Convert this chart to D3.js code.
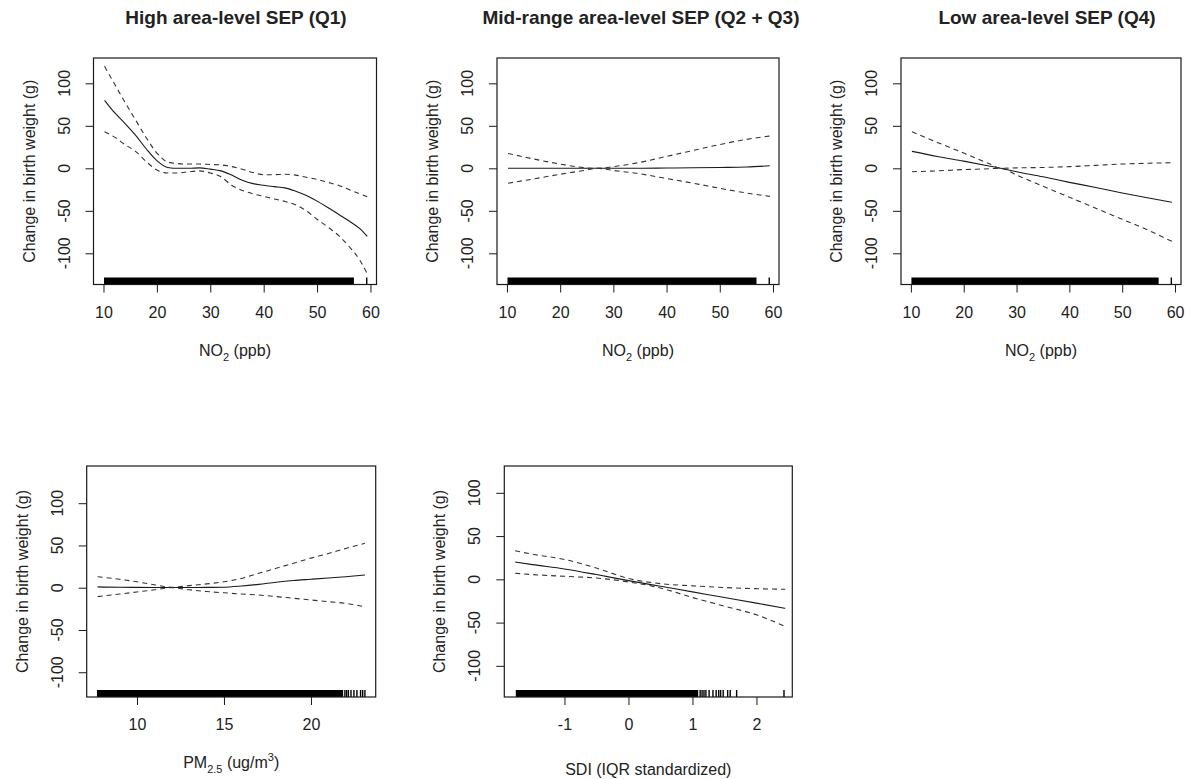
<!DOCTYPE html>
<html><head><meta charset="utf-8">
<script src="https://cdn.jsdelivr.net/npm/d3@7"></script>
<style>
body{margin:0;background:#fff}
text{font-family:"Liberation Sans",Arial,sans-serif;fill:#222}
</style>
</head><body>
<svg id="chart" width="1190" height="779"></svg>
<script>
// ---------- data ----------
const titles = ["High area-level SEP (Q1)", "Mid-range area-level SEP (Q2 + Q3)", "Low area-level SEP (Q4)"];
const yTicks = [-100, -50, 0, 50, 100];
const no2Ticks = [10, 20, 30, 40, 50, 60];
const pmTicks = [10, 15, 20];
const sdiTicks = [-1, 0, 1, 2];

// Panel 1: NO2, Q1
const q1X     = [10.2, 12, 14, 16, 18, 20, 22, 24, 26, 28, 30, 32, 34, 36, 38, 40, 42, 44, 46, 48, 50, 52, 54, 56, 58, 59.4];
const q1Fit   = [80, 66, 53, 39, 23, 9, 1, 0, 0, 0.5, -1, -3, -8, -14, -18, -20, -21.5, -23, -27, -32, -38.6, -46, -54, -62, -71, -80];
const q1Upper = [120, 100, 78, 57, 36, 18, 7.5, 5.5, 5, 5, 4.5, 4, 2, -1, -5, -7.5, -7.5, -7, -8, -10.5, -13, -16.5, -20, -25, -30, -33.5];
const q1Lower = [43, 37, 28, 20, 8, -2, -5.5, -5.5, -4, -3, -5.5, -10, -20, -26, -30, -33, -36, -39, -43, -50, -60, -69, -79, -92, -108, -124];

// Panel 2: NO2, Q2+Q3
const q23X     = [10.2, 15, 20, 25, 27, 30, 35, 40, 45, 50, 55, 59.4];
const q23Fit   = [0, 0, 0, 0, 0, 0, 0, 0.3, 0.6, 1, 1.5, 3];
const q23Upper = [17.5, 11, 5, 0.5, 0, 2, 7, 14, 21, 28, 34, 38];
const q23Lower = [-17.5, -12.5, -7, -2, 0, -2.5, -6.5, -12, -17.5, -23.5, -29, -33];

// Panel 3: NO2, Q4
const q4X     = [10.2, 15, 20, 25, 27, 30, 35, 40, 45, 50, 55, 59.4];
const q4Fit   = [20, 14, 8.5, 2.5, 0, -4, -10, -16.5, -22.5, -29, -35, -40];
const q4Upper = [43, 30.5, 18, 5, 0, 0.5, 1, 2, 3.5, 5, 6, 6.6];
const q4Lower = [-4, -3, -1.5, -0.5, 0, -8, -21, -34, -47, -60, -73, -86];

// Panel 4: PM2.5
const pmX     = [7.74, 9, 10, 11, 12, 13, 14, 15, 16, 17, 18, 19, 20, 21, 22, 23.1];
const pmFit   = [1, 0.5, 0.4, 0.3, 0.3, 0.3, 0.4, 0.6, 2, 4, 6.5, 8.5, 10, 11.5, 13, 15];
const pmUpper = [13, 10, 7, 3.5, 0.5, 2.5, 4.5, 7, 11, 17, 23, 29, 35, 40.5, 46.5, 52.5];
const pmLower = [-10.5, -7.5, -5, -2.5, 0, -2.5, -4.5, -6, -7.5, -8.7, -10.5, -12.5, -14.5, -16.5, -18.5, -22.5];

// Panel 5: SDI
const sdiX     = [-1.77, -1.5, -1, -0.5, 0, 0.5, 1, 1.5, 2, 2.45];
const sdiFit   = [20, 17, 12, 5.5, -1.5, -8, -14.5, -21, -27.5, -33.5];
const sdiUpper = [33, 29, 23, 13, 1, -5, -7.5, -9.5, -10.8, -11.5];
const sdiLower = [7, 5.5, 3.5, 1.5, -3, -10, -21, -31, -41, -54.5];

// Rugs: dense band [from, to] plus isolated ticks
const no2RugBand = [10.1, 56.9];
const no2RugTicks = [59.3];
const pmRugBand = [7.7, 21.85];
const pmRugTicks = [21.95, 22.05, 22.15, 22.3, 22.47, 22.64, 22.85, 22.97, 23.1];
const sdiRugBand = [-1.76, 1.09];
const sdiRugTicks = [1.12, 1.15, 1.18, 1.21, 1.26, 1.32, 1.37, 1.41, 1.44, 1.48, 1.55, 1.59, 1.69, 2.43];

// ---------- layout ----------
const panels = [
  {title: titles[0], box: [93.5, 58, 376.5, 284.5], xd: [8.13, 61.13], yd: [-136.7, 129.8], xt: no2Ticks,
   x: q1X, fit: q1Fit, up: q1Upper, lo: q1Lower, band: no2RugBand, rt: no2RugTicks, xlab: "no2", titleX: 236},
  {title: titles[1], box: [497, 58, 779, 284.5], xd: [8.13, 61.13], yd: [-136.7, 129.8], xt: no2Ticks,
   x: q23X, fit: q23Fit, up: q23Upper, lo: q23Lower, band: no2RugBand, rt: no2RugTicks, xlab: "no2", titleX: 641},
  {title: titles[2], box: [901, 58, 1181, 284.5], xd: [8.13, 61.13], yd: [-136.7, 129.8], xt: no2Ticks,
   x: q4X, fit: q4Fit, up: q4Upper, lo: q4Lower, band: no2RugBand, rt: no2RugTicks, xlab: "no2", titleX: 1047},
  {title: null, box: [86.7, 466, 375.7, 697], xd: [7.11, 23.72], yd: [-129.3, 144], xt: pmTicks,
   x: pmX, fit: pmFit, up: pmUpper, lo: pmLower, band: pmRugBand, rt: pmRugTicks, xlab: "pm"},
  {title: null, box: [504.3, 466, 792.3, 697], xd: [-1.94, 2.56], yd: [-136, 131], xt: sdiTicks,
   x: sdiX, fit: sdiFit, up: sdiUpper, lo: sdiLower, band: sdiRugBand, rt: sdiRugTicks, xlab: "sdi"}
];

const svg = d3.select("#chart");
const ink = "#1a1a1a";
const FS = 16;

panels.forEach(p => {
  const [x0, y0, x1, y1] = p.box;
  const xs = d3.scaleLinear().domain(p.xd).range([x0, x1]);
  const ys = d3.scaleLinear().domain(p.yd).range([y1, y0]);
  const g = svg.append("g");

  // rug
  g.append("rect")
    .attr("x", xs(p.band[0])).attr("y", y1 - 7)
    .attr("width", xs(p.band[1]) - xs(p.band[0])).attr("height", 7)
    .attr("fill", "#000");
  g.selectAll(".rug").data(p.rt).enter().append("line")
    .attr("x1", d => xs(d)).attr("x2", d => xs(d))
    .attr("y1", y1 - 7).attr("y2", y1)
    .attr("stroke", "#000").attr("stroke-width", 1.4);

  // curves
  const line = d3.line().x((d, i) => xs(p.x[i])).y(d => ys(d)).curve(d3.curveMonotoneX);
  g.append("path").attr("d", line(p.fit)).attr("fill", "none").attr("stroke", ink).attr("stroke-width", 1.1);
  [p.up, p.lo].forEach(s => {
    g.append("path").attr("d", line(s)).attr("fill", "none").attr("stroke", "#333")
      .attr("stroke-width", 1.1).attr("stroke-dasharray", "5,4");
  });

  // box
  g.append("rect").attr("x", x0).attr("y", y0).attr("width", x1 - x0).attr("height", y1 - y0)
    .attr("fill", "none").attr("stroke", ink).attr("stroke-width", 1.2);

  // x axis
  const xa = g.append("g").attr("transform", `translate(0,${y1})`)
    .call(d3.axisBottom(xs).tickValues(p.xt).tickSize(8).tickPadding(14).tickFormat(d => String(d)));
  xa.select(".domain").remove();
  xa.selectAll("line").attr("stroke", ink);
  xa.selectAll("text").attr("font-size", FS).style("font-family", '"Liberation Sans",Arial,sans-serif').attr("fill", "#222");

  // y axis
  const ya = g.append("g").attr("transform", `translate(${x0},0)`)
    .call(d3.axisLeft(ys).tickValues(yTicks).tickSize(8).tickFormat(d => String(d)));
  ya.select(".domain").remove();
  ya.selectAll("line").attr("stroke", ink);
  ya.selectAll("text").remove();
  g.selectAll(".ylab").data(yTicks).enter().append("text")
    .attr("transform", d => `translate(${x0 - 24},${ys(d)}) rotate(-90)`)
    .attr("text-anchor", "middle").attr("font-size", FS)
    .text(d => String(d));

  // y title
  g.append("text")
    .attr("transform", `translate(${x0 - 59},${(y0 + y1) / 2}) rotate(-90)`)
    .attr("text-anchor", "middle").attr("font-size", FS)
    .text("Change in birth weight (g)");

  // x title
  const cx = (x0 + x1) / 2;
  if (p.xlab === "no2") {
    const t = g.append("text").attr("x", cx).attr("y", y1 + 71).attr("text-anchor", "middle").attr("font-size", FS);
    t.append("tspan").text("NO");
    t.append("tspan").attr("font-size", 11).attr("dy", 5).text("2");
    t.append("tspan").attr("dy", -5).text(" (ppb)");
  } else if (p.xlab === "pm") {
    const t = g.append("text").attr("x", cx).attr("y", y1 + 71).attr("text-anchor", "middle").attr("font-size", FS);
    t.append("tspan").text("PM");
    t.append("tspan").attr("font-size", 11).attr("dy", 5).text("2.5");
    t.append("tspan").attr("dy", -5).text(" (ug/m");
    t.append("tspan").attr("font-size", 11).attr("dy", -7).text("3");
    t.append("tspan").attr("dy", 7).text(")");
  } else {
    g.append("text").attr("x", cx).attr("y", y1 + 78).attr("text-anchor", "middle").attr("font-size", FS)
      .text("SDI (IQR standardized)");
  }

  // title
  if (p.title) {
    g.append("text").attr("x", p.titleX).attr("y", 24).attr("text-anchor", "middle")
      .attr("font-size", 19).attr("font-weight", "bold").text(p.title);
  }
});
</script>
</body></html>
